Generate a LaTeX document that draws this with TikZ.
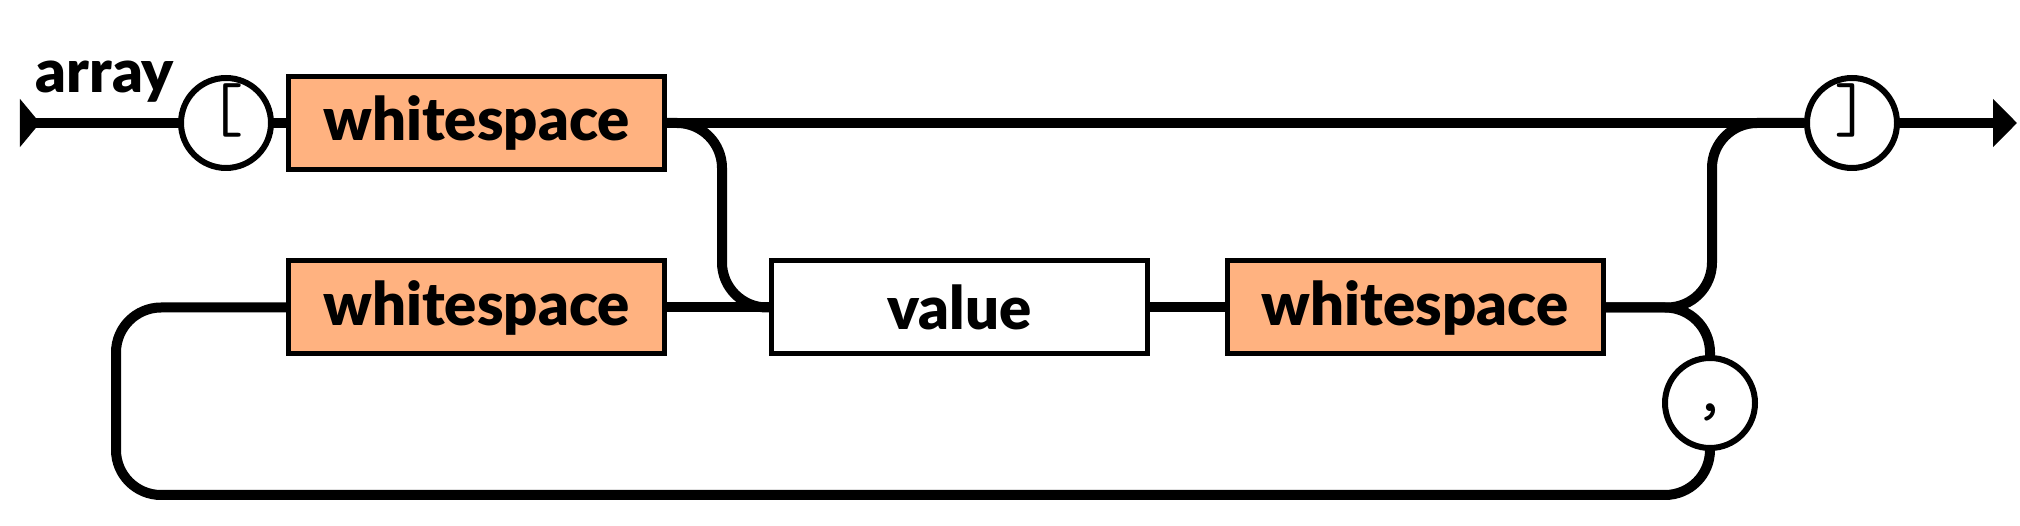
\documentclass[tikz,border=0pt]{standalone}
\usepackage{fontspec}
\setmainfont{Lato}[BoldFont={Lato Black}]
\usetikzlibrary{arrows.meta,positioning}
\definecolor{wsorange}{RGB}{255,178,128}
\tikzset{
  rail/.style={line width=0.1cm},
  wsbox/.style={draw, line width=0.05cm, fill=wsorange, minimum width=3.76cm,
    minimum height=0.93cm, inner sep=0pt, font=\bfseries\fontsize{17}{20}\selectfont},
  valbox/.style={wsbox, fill=white},
  termcirc/.style={draw, circle, line width=0.06cm, fill=white, minimum size=0.9cm,
    inner sep=0pt, text height=0.75em, text depth=0.25em,
    font=\ttfamily\fontsize{19.6}{20}\selectfont}
}

\begin{document}
\begin{tikzpicture}[y=-1cm]
  \useasboundingbox (0,0) rectangle (20.2,5.26);

  % Rule name
  \node[anchor=base west, inner sep=0pt, font=\bfseries\fontsize{17}{20}\selectfont] (name) at (0.35,0.93) {array};

  % Top row
  \node[termcirc] (open) at (2.26,1.23) {[};
  \node[wsbox] (ws1) at (4.765,1.23) {whitespace};
  \node[termcirc] (close) at (18.52,1.23) {]};

  % Middle row
  \node[wsbox] (ws2) at (4.765,3.075) {whitespace};
  \node[valbox] (val) at (9.595,3.075) {value};
  \node[wsbox] (ws3) at (14.15,3.075) {whitespace};
  \node[termcirc] (comma) at (17.10,4.03) {,};

  % Ends and bends
  \coordinate (start) at (0.20,1.23);
  \coordinate (finish) at (20.17,1.23);
  \coordinate (loop) at (1.16,4.95);

  % Main rail
  \draw[rail, {Triangle[reversed,length=0.2cm,width=0.47cm]}-] (start) -- (open.west);
  \draw[rail] (open.east) -- (ws1.west);
  \draw[rail] (ws1.east) -- (close.west);
  \draw[rail, -{Triangle[length=0.24cm,width=0.47cm]}] (close.east) -- (finish);

  % Into the list
  \draw[rail, rounded corners=0.45cm] (ws1.east) -| ([xshift=-0.47cm]val.west) -- (val.west);
  \draw[rail] (ws2.east) -- (val.west);
  \draw[rail] (val.east) -- (ws3.west);

  % Out of the list
  \draw[rail, rounded corners=0.45cm] (ws3.east) -| ([xshift=-0.92cm]close.west) -- (close.west);

  % Separator loop
  \draw[rail, rounded corners=0.45cm] (ws3.east) -| (comma.north);
  \draw[rail, rounded corners=0.45cm] (comma.south) |- (loop) |- (ws2.west);
\end{tikzpicture}
\end{document}
